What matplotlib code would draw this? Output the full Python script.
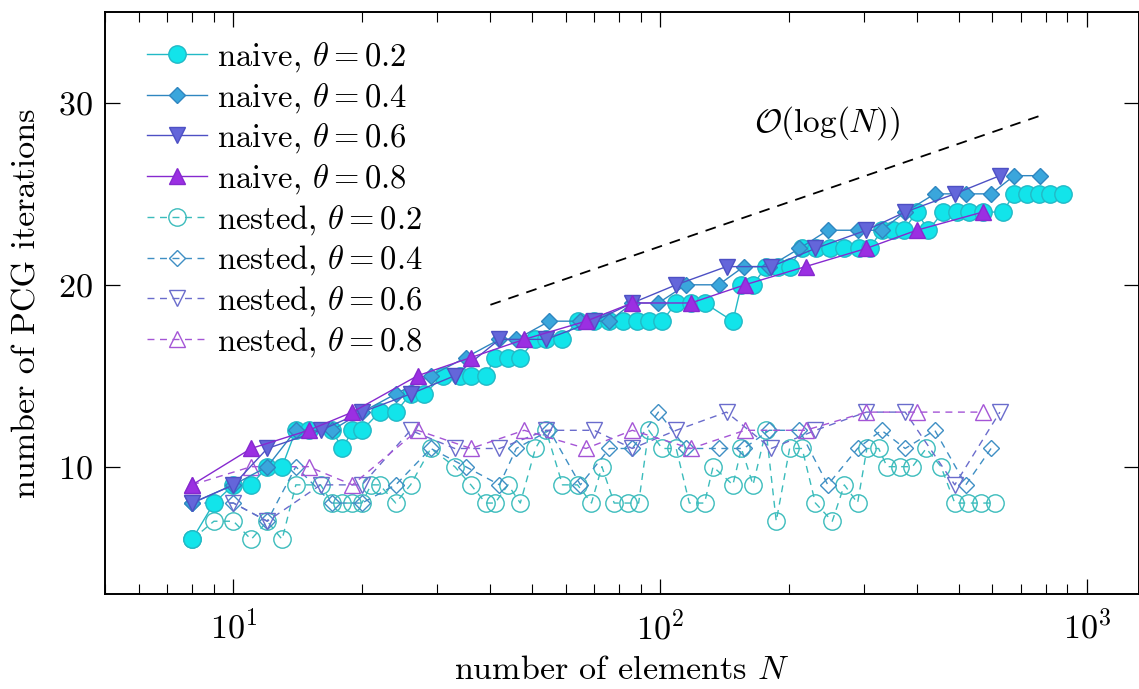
import matplotlib
matplotlib.use("Agg")
import matplotlib.pyplot as plt
from matplotlib.ticker import LogLocator, FixedLocator, NullFormatter, LogFormatterSciNotation

plt.rcParams['mathtext.fontset'] = 'cm'
plt.rcParams['font.family'] = 'serif'
plt.rcParams['font.serif'] = ['cmr10', 'DejaVu Serif']
plt.rcParams['axes.formatter.use_mathtext'] = True

# ---- data: PCG iteration counts vs. number of elements ----
naive02_N = [8, 9, 10, 11, 12, 13, 14, 15, 17, 18, 19, 20, 22, 24, 26, 28, 31, 34, 36, 39,
             41, 44, 47, 51, 54, 59, 64, 70, 76, 82, 88, 94, 101, 109, 118, 127, 148, 155, 165, 177,
             189, 201, 215, 232, 250, 270, 293, 310, 330, 352, 372, 399, 425, 460, 495, 530, 570, 635, 675, 725,
             770, 820, 880]
naive02_it = [6, 8, 9, 9, 10, 10, 12, 12, 12, 11, 12, 12, 13, 13, 14, 14, 15, 15, 15, 15,
              16, 16, 16, 17, 17, 17, 18, 18, 18, 18, 18, 18, 18, 19, 19, 19, 18, 20, 20, 21,
              21, 21, 22, 22, 22, 22, 22, 22, 23, 23, 23, 24, 23, 24, 24, 24, 24, 24, 25, 25,
              25, 25, 25]

naive04_N = [8, 10, 12, 14, 17, 20, 24, 29, 35, 42, 46, 55, 65, 76, 86, 99, 115, 137, 157, 180,
             212, 247, 290, 330, 375, 440, 520, 596, 675, 775]
naive04_it = [8, 9, 10, 12, 12, 13, 14, 15, 16, 17, 17, 18, 18, 18, 19, 19, 20, 20, 21, 21,
              22, 23, 23, 23, 24, 25, 25, 25, 26, 26]

naive06_N = [8, 10, 12, 16, 20, 26, 33, 42, 54, 70, 86, 109, 143, 182, 231, 304, 375, 490, 625]
naive06_it = [8, 9, 11, 12, 13, 14, 15, 17, 17, 18, 19, 20, 21, 21, 22, 23, 24, 25, 26]

naive08_N = [8, 11, 15, 19, 27, 36, 48, 67, 86, 118, 158, 219, 304, 399, 570]
naive08_it = [9, 11, 12, 13, 15, 16, 17, 18, 19, 19, 20, 21, 22, 23, 24]

nested02_N = [8, 9, 10, 11, 12, 13, 14, 16, 17, 18, 19, 20, 21, 22, 24, 26, 29, 33, 36, 39,
              41, 44, 47, 51, 54, 59, 64, 69, 73, 78, 84, 89, 94, 101, 109, 117, 127, 133, 148, 155,
              165, 177, 187, 201, 215, 231, 253, 270, 290, 305, 325, 340, 365, 390, 420, 455, 490, 525, 565, 610]
nested02_it = [6, 7, 7, 6, 7, 6, 9, 9, 8, 8, 8, 8, 9, 9, 8, 9, 11, 10, 9, 8,
               8, 9, 8, 11, 12, 9, 9, 8, 10, 8, 8, 8, 12, 11, 11, 8, 8, 10, 9, 11,
               9, 12, 7, 11, 11, 8, 7, 9, 8, 11, 11, 10, 10, 10, 11, 10, 8, 8, 8, 8]

nested04_N = [8, 10, 12, 14, 17, 20, 24, 29, 35, 42, 46, 55, 65, 76, 86, 99, 115, 137, 157, 180,
              212, 247, 290, 330, 375, 440, 520, 596]
nested04_it = [8, 8, 7, 10, 8, 8, 9, 11, 10, 9, 11, 12, 9, 11, 11, 13, 11, 11, 11, 12,
               12, 9, 11, 12, 11, 12, 9, 11]

nested06_N = [8, 10, 12, 16, 20, 26, 33, 42, 54, 70, 86, 109, 143, 182, 231, 304, 375, 490, 625]
nested06_it = [8, 8, 7, 9, 9, 12, 11, 11, 12, 12, 11, 12, 13, 11, 12, 13, 13, 9, 13]

nested08_N = [8, 11, 15, 19, 27, 36, 48, 67, 86, 118, 158, 219, 304, 399, 570]
nested08_it = [9, 10, 10, 9, 12, 11, 12, 11, 12, 11, 12, 12, 13, 13, 13]

# reference slope O(log N): end points of the guide line
ref_N = [40, 800]
ref_it = [18.9, 29.4]

theta_labels = ["0.2", "0.4", "0.6", "0.8"]

# ---- styles ----
fig = plt.figure(figsize=(11.39, 6.89), dpi=100)
ax = fig.add_axes([0.0922, 0.1379, 0.9078, 0.8447])

naive = [
    (naive02_N, naive02_it, "o", 12.5, "#12e4ea", "#22b9c6"),
    (naive04_N, naive04_it, "D", 8.0, "#3aa6dc", "#2f86c0"),
    (naive06_N, naive06_it, "v", 11.0, "#6466da", "#4d50c4"),
    (naive08_N, naive08_it, "^", 11.0, "#9b2fe2", "#8629cf"),
]
nested = [
    (nested02_N, nested02_it, "o", 12.5, "#3bbcbc"),
    (nested04_N, nested04_it, "D", 8.0, "#3f8fc4"),
    (nested06_N, nested06_it, "v", 11.0, "#6a6ccc"),
    (nested08_N, nested08_it, "^", 11.0, "#a455d6"),
]

handles = []
for (N, it, m, ms, fc, ec), th in zip(naive, theta_labels):
    h, = ax.plot(N, it, color=ec, lw=1.0, marker=m, ms=ms, mfc=fc, mec=ec, mew=1.0,
                 label=r"naive, $\theta = %s$" % th, zorder=3)
    handles.append(h)
for (N, it, m, ms, ec), th in zip(nested, theta_labels):
    h, = ax.plot(N, it, color=ec, lw=1.0, ls=(0, (5, 4)), marker=m, ms=ms, mfc="none",
                 mec=ec, mew=1.0, label=r"nested, $\theta = %s$" % th, zorder=2)
    handles.append(h)

ax.plot(ref_N, ref_it, color="black", lw=1.3, ls=(0, (6, 4.5)), zorder=1)
ax.text(365, 28.9, r"$\mathcal{O}(\log(N))$", fontsize=24, ha="right", va="center")

ax.set_xscale("log")
ax.set_xlim(5, 1324)
ax.set_ylim(3, 35)

ax.xaxis.set_major_locator(LogLocator(base=10, numticks=10))
ax.xaxis.set_major_formatter(LogFormatterSciNotation())
ax.xaxis.set_minor_locator(LogLocator(base=10, subs=range(2, 10), numticks=20))
ax.xaxis.set_minor_formatter(NullFormatter())
ax.yaxis.set_major_locator(FixedLocator([10, 20, 30]))

ax.tick_params(which="both", direction="in", top=True, right=True, labelsize=24.5)
ax.tick_params(axis="x", pad=11)
ax.tick_params(axis="y", pad=9)
ax.tick_params(which="major", length=11, width=0.9)
ax.tick_params(which="minor", length=7, width=0.8)
for s in ax.spines.values():
    s.set_linewidth(1.4)

ax.set_xlabel(r"number of elements $N$", fontsize=24.5, labelpad=8)
ax.set_ylabel("number of PCG iterations", fontsize=24.5, labelpad=12)

ax.legend(handles=handles, loc="upper left", bbox_to_anchor=(0.0406, 0.952), frameon=False,
          fontsize=23.5, handlelength=1.84, handletextpad=0.31, labelspacing=0.21,
          borderaxespad=0, borderpad=0)

fig.savefig("out.png", dpi=100)
